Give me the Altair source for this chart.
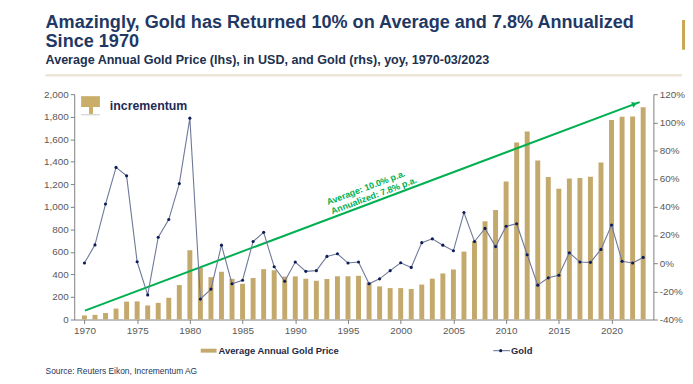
import altair as alt
import pandas as pd

# ---------------- data ----------------
years = list(range(1970, 2024))
avg_price = [36, 41, 58, 97, 159, 161, 125, 148, 193, 306,
             615, 460, 376, 424, 361, 317, 368, 447, 437, 381,
             383, 362, 344, 360, 384, 384, 388, 331, 294, 279,
             279, 271, 310, 363, 409, 444, 603, 695, 872, 972,
             1225, 1572, 1669, 1411, 1266, 1160, 1251, 1257, 1268, 1393,
             1770, 1799, 1802, 1883]
gold_yoy = [0.1, 13, 42, 68, 62, 1, -22.5, 18.4, 31, 56.5,
            103, -25.5, -18.4, 12.8, -14.6, -12.1, 15.4, 21.9, -2.5, -12.8,
            0.8, -5.8, -5.3, 4.8, 6.7, 0.1, 0.8, -14.6, -11.1, -5.3,
            0.3, -3, 14.6, 17.3, 12.8, 8.8, 36, 15.4, 24.7, 11.8,
            26.2, 28, 6, -15.6, -10.4, -8.6, 7.4, 0.8, 0.6, 9.8,
            27.1, 1.3, 0.1, 4.1]

trend_years = [1970.05, 2022.67]
trend_values = [79, 1930]
arrow_year = [2022.2]
arrow_value = [1914]

ann_texts = ["Average: 10.0% p.a.", "Annualized: 7.8% p.a."]
ann_years = [1996.7, 1997.45]
ann_values = [1170, 1100]

title_line1 = "Amazingly, Gold has Returned 10% on Average and 7.8% Annualized"
title_line2 = "Since 1970"
subtitle = "Average Annual Gold Price (lhs), in USD, and Gold (rhs), yoy, 1970-03/2023"
source = "Source: Reuters Eikon, Incrementum AG"
legend_bar = "Average Annual Gold Price"
legend_line = "Gold"

FONT = "Liberation Sans"
GOLD = "#C4A96C"
NAVY = "#1F3864"
GREEN = "#00B050"
LINE = "#6E7899"
DOT = "#0C1D5A"

df = pd.DataFrame({"year": years, "price": avg_price, "yoy": gold_yoy})
trend = pd.DataFrame({"year": trend_years, "val": trend_values})
arrow = pd.DataFrame({"year": arrow_year, "val": arrow_value})
ann = pd.DataFrame({"year": ann_years, "val": ann_values, "t": ann_texts})
one = pd.DataFrame({"k": [0]})

x_enc = alt.X("year:Q",
              scale=alt.Scale(domain=[1969.5, 2023.5], nice=False, zero=False),
              axis=alt.Axis(values=list(range(1970, 2021, 5)), format="d",
                            title=None, grid=False, tickSize=4, labelPadding=2))

left_scale = alt.Scale(domain=[0, 2000], nice=False)
right_scale = alt.Scale(domain=[-40, 120], nice=False)

bars = alt.Chart(df).mark_bar(size=5, color=GOLD).encode(
    x=x_enc,
    y=alt.Y("price:Q", scale=left_scale,
            axis=alt.Axis(orient="left", values=list(range(0, 2001, 200)),
                          format=",.0f", title=None, grid=False)),
)

trend_line = alt.Chart(trend).mark_line(color=GREEN, strokeWidth=2).encode(
    x=x_enc, y=alt.Y("val:Q", scale=left_scale, axis=None))

arrow_head = alt.Chart(arrow).mark_point(shape="triangle-right", angle=339.7,
                                         size=40, filled=True, color=GREEN,
                                         opacity=1).encode(
    x=x_enc, y=alt.Y("val:Q", scale=left_scale, axis=None))

ann_text = alt.Chart(ann).mark_text(font=FONT, fontSize=9, fontWeight="bold",
                                    color=GREEN, angle=339.5, align="center",
                                    baseline="middle").encode(
    x=x_enc, y=alt.Y("val:Q", scale=left_scale, axis=None), text="t:N")

gold_line = alt.Chart(df).mark_line(color=LINE, strokeWidth=1.1).encode(
    x=x_enc,
    y=alt.Y("yoy:Q", scale=right_scale,
            axis=alt.Axis(orient="right", values=list(range(-40, 121, 20)),
                          labelExpr="datum.value + '%'", title=None, grid=False)))

gold_pts = alt.Chart(df).mark_point(filled=True, size=10, color=DOT, opacity=1).encode(
    x=x_enc, y=alt.Y("yoy:Q", scale=right_scale, axis=None))


def txt(text, x, y, size, color, weight="normal", align="left", baseline="alphabetic"):
    return alt.Chart(one).mark_text(text=text, font=FONT, fontSize=size, color=color,
                                    fontWeight=weight, align=align,
                                    baseline=baseline).encode(
        x=alt.value(x), y=alt.value(y))


def rect(x1, x2, y1, y2, color):
    return alt.Chart(one).mark_rect(color=color).encode(
        x=alt.value(x1), x2=alt.value(x2), y=alt.value(y1), y2=alt.value(y2))


deco = [
    txt(title_line1, -29, -67, 18.3, NAVY, "bold"),
    txt(title_line2, -29, -48, 18.3, NAVY, "bold"),
    txt(subtitle, -29, -31, 12.7, "#20304F", "bold"),
    rect(-29, 615, -20.5, -18, "#EDE5D5"),
    rect(615, 618, -75, -45, "#C9A650"),
    # logo
    rect(7, 26, 2, 13, "#C9AE6A"),
    rect(15, 19, 13, 21, "#C9AE6A"),
    rect(7, 26, 20, 21.5, "#D9D9D9"),
    txt("incrementum", 36, 12, 12.5, "#1F2A55", "bold", baseline="middle"),
    # legend
    rect(128, 144, 257.5, 261.5, GOLD),
    txt(legend_bar, 146, 259.5, 9.5, "#1F2A44", "bold", baseline="middle"),
    alt.Chart(one).mark_rule(color=LINE, strokeWidth=1.1).encode(
        x=alt.value(424), x2=alt.value(441), y=alt.value(259.5)),
    alt.Chart(one).mark_point(filled=True, size=10, color=DOT, opacity=1).encode(
        x=alt.value(431.5), y=alt.value(259.5)),
    txt(legend_line, 442, 259.5, 9.5, "#1F2A44", "bold", baseline="middle"),
    # source
    txt(source, -29, 280, 8.5, "#26365A", baseline="middle"),
]

chart = alt.layer(
    bars, trend_line, arrow_head, ann_text, gold_line, gold_pts, *deco
).resolve_scale(y="independent").properties(
    width=586, height=228,
    padding={"left": 67, "top": 85, "right": 32, "bottom": 60},
    autosize=alt.AutoSizeParams(type="none"),
).configure_view(stroke=None).configure_axis(
    labelFont=FONT, labelFontSize=10, labelColor="#595959",
    domainColor="#808080", tickColor="#808080", tickSize=4, grid=False,
    labelPadding=2,
)

chart.save("out.html", embed_options={"renderer": "svg", "actions": False})
